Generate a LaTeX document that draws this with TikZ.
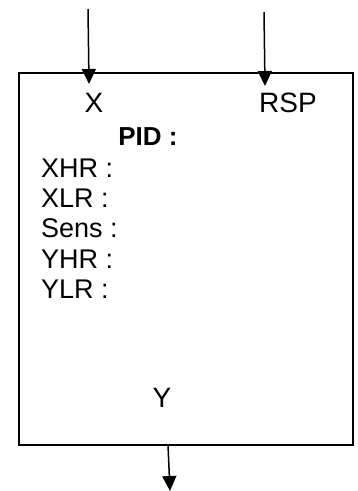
\documentclass[tikz,border=0pt]{standalone}
\usepackage{fontspec}
\setmainfont{Liberation Sans}
\usetikzlibrary{arrows.meta}
\begin{document}
\begin{tikzpicture}[x=1pt,y=-1pt]
	\useasboundingbox (0,0) rectangle (357,491);
	\tikzstyle{block}=[draw=black, line width=1.5pt, minimum width=334pt, minimum height=372pt, inner sep=0pt]
	\tikzstyle{port}=[inner sep=0pt, anchor=base, font=\fontsize{28}{30}\selectfont]
	\tikzstyle{param}=[inner sep=0pt, anchor=base west, font=\fontsize{27}{30}\selectfont]
	\node[block] (pid) at (186,259) {};
	\node[port] (x) at (94,112) {X};
	\node[port] (rsp) at (288,112) {RSP};
	\node[port, font=\fontsize{26}{30}\selectfont\bfseries] (title) at (148,145) {PID :};
	\node[param] (xhr) at (41,177) {XHR :};
	\node[param] (xlr) at (41,207) {XLR :};
	\node[param] (sens) at (41,237) {Sens :};
	\node[param] (yhr) at (41,268) {YHR :};
	\node[param] (ylr) at (41,298) {YLR :};
	\node[port] (y) at (162,407) {Y};
	
	\coordinate (xtop) at (88,9);
	\coordinate (xend) at (89,84);
	\coordinate (rsptop) at (264,12);
	\coordinate (rspend) at (265,86);
	\coordinate (yout) at (168,445);
	\coordinate (yend) at (170,491);
	\begin{scope}[-{Triangle[length=15pt,width=14pt]}, line width=1.5pt]
		\draw	(xtop) -- (xend);
		\draw	(rsptop) -- (rspend);
		\draw	(yout) -- (yend);
	\end{scope}
\end{tikzpicture}
\end{document}
